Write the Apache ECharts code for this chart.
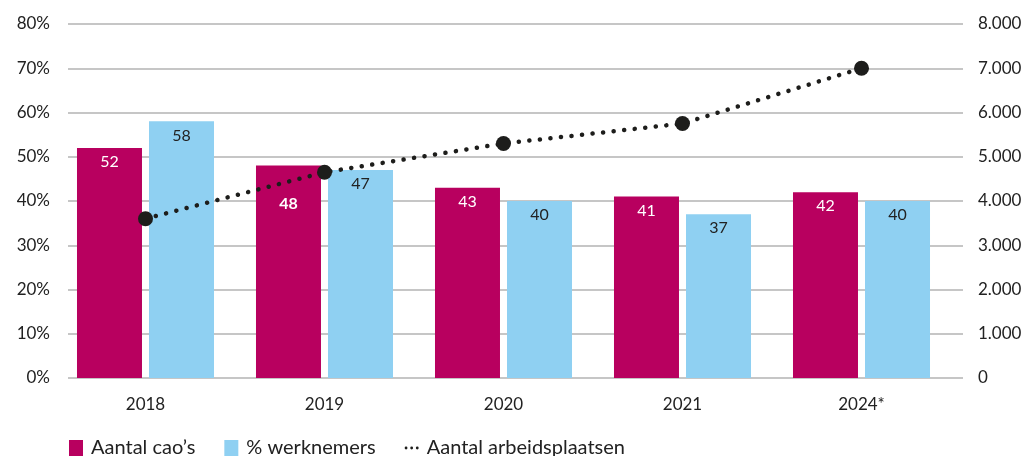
<!DOCTYPE html>
<html><head><meta charset="utf-8">
<script src="https://cdn.jsdelivr.net/npm/echarts@6/dist/echarts.min.js"></script>
<style>html,body{margin:0;padding:0;background:#fff}#c{width:1032px;height:456px}</style>
</head><body><div id="c"></div>
<script>
const categories = ['2018', '2019', '2020', '2021', '2024*'];
const caos = [52, 48, 43, 41, 42];
const werknemers = [58, 47, 40, 37, 40];
const arbeidsplaatsen = [3600, 4650, 5300, 5750, 7000];
const leftTicks = [0, 10, 20, 30, 40, 50, 60, 70, 80];
const rightTicks = [0, 1000, 2000, 3000, 4000, 5000, 6000, 7000, 8000];

const FONT = 'Lato';
const MAG = '#B8005F', BLUE = '#8FD0F2', DARK = '#1d1d1b';
const chart = echarts.init(document.getElementById('c'), null, {renderer: 'canvas'});
const dotIcon = 'path://M2,5a2,2 0 1,0 4,0a2,2 0 1,0 -4,0M10,5a2,2 0 1,0 4,0a2,2 0 1,0 -4,0M18,5a2,2 0 1,0 4,0a2,2 0 1,0 -4,0';
chart.setOption({
  animation: false,
  textStyle: {fontFamily: FONT},
  grid: [
    {left: 56, right: 81, top: 24, bottom: 78},
    {left: 68, right: 69, top: 24, bottom: 78}
  ],
  legend: {
    left: 64, bottom: -7, itemWidth: 14, itemHeight: 16, itemGap: 29,
    textStyle: {fontFamily: FONT, fontSize: 20, color: '#222', padding: [0, 0, 0, 3]},
    data: [
      {name: 'Aantal cao’s', icon: 'rect'},
      {name: '% werknemers', icon: 'rect'},
      {name: 'Aantal arbeidsplaatsen', icon: dotIcon, itemStyle: {color: DARK}}
    ]
  },
  xAxis: [
    {type: 'category', gridIndex: 0, data: categories,
      axisLine: {show: false}, axisTick: {show: false},
      axisLabel: {margin: 18, fontSize: 17, color: '#222', fontFamily: FONT}},
    {type: 'category', gridIndex: 1, data: categories, show: false}
  ],
  yAxis: [
    {type: 'value', gridIndex: 0, min: 0, max: 80, interval: 10, show: false, splitLine: {show: false}},
    {type: 'value', gridIndex: 0, min: 0, max: 8000, interval: 1000, show: false, splitLine: {show: false}},
    {type: 'value', gridIndex: 1, min: 0, max: 80, interval: 10, position: 'left',
      axisLine: {show: false}, axisTick: {show: false},
      axisLabel: {margin: 18, fontSize: 17, color: '#222', fontFamily: FONT, formatter: v => v + '%'},
      splitLine: {show: true, lineStyle: {color: '#c6c6c6', width: 2}}},
    {type: 'value', gridIndex: 1, min: 0, max: 8000, interval: 1000, position: 'right',
      axisLine: {show: false}, axisTick: {show: false},
      axisLabel: {margin: 15, fontSize: 17, color: '#222', fontFamily: FONT,
        formatter: v => v === 0 ? '0' : (v / 1000) + '.000'},
      splitLine: {show: false}}
  ],
  series: [
    {name: 'Aantal cao’s', type: 'bar', xAxisIndex: 0, yAxisIndex: 0, barWidth: 65, barGap: '10.8%',
      itemStyle: {color: MAG},
      data: caos.map((v, i) => i === 1 ? {value: v, label: {fontWeight: 'bold', offset: [0, 24]}} : v),
      label: {show: true, position: 'insideTop', distance: 6, color: '#fff', fontSize: 16, fontFamily: FONT}},
    {name: '% werknemers', type: 'bar', xAxisIndex: 0, yAxisIndex: 0, barWidth: 65,
      itemStyle: {color: BLUE}, data: werknemers,
      label: {show: true, position: 'insideTop', distance: 6, color: '#222', fontSize: 16, fontFamily: FONT}},
    {name: 'Aantal arbeidsplaatsen', type: 'line', xAxisIndex: 0, yAxisIndex: 1, data: arbeidsplaatsen,
      symbol: 'circle', symbolSize: 15, itemStyle: {color: DARK},
      lineStyle: {color: DARK, width: 4.5, type: [0.1, 10.5], cap: 'round'}, z: 5}
  ]
});
</script></body></html>
